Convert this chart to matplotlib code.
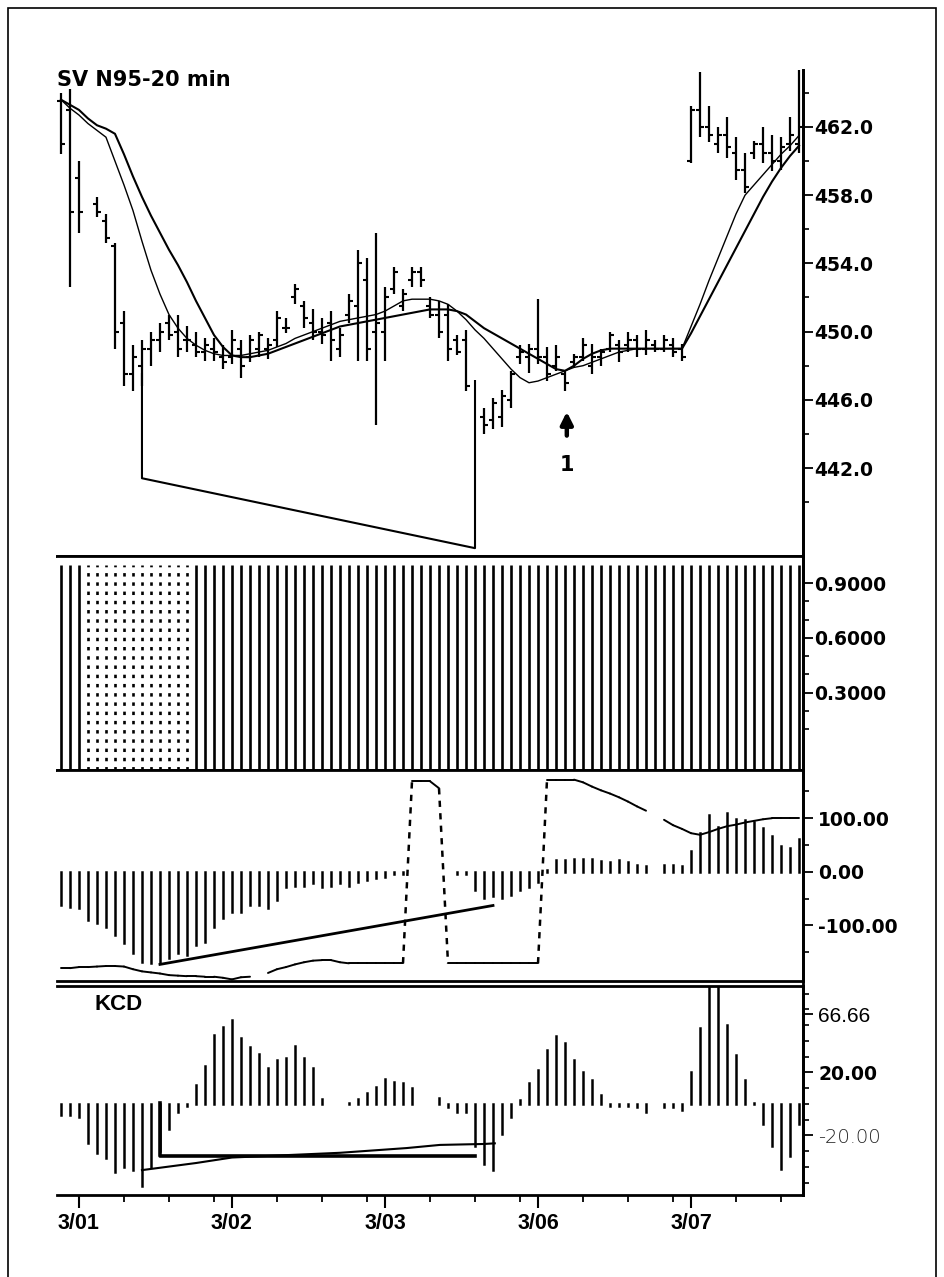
import numpy as np
import matplotlib
matplotlib.use("Agg")
import matplotlib.pyplot as plt
from matplotlib.collections import LineCollection
from matplotlib.lines import Line2D
from matplotlib.patches import Rectangle

nan = np.nan

# ---------------- data, one value per 20-min bar ----------------
bar_high = [464.0, 464.2, 460.0, nan, 457.9, 456.9, 455.2, 451.2, 449.2, 449.5,
            450.0, 450.5, 451.0, 451.0, 450.3, 450.0, 449.6, 449.6, 449.2, 450.1,
            449.5, 449.8, 450.0, 449.6, 451.2, 450.8, 452.8, 451.8, 451.3, 450.8,
            451.2, 450.2, 452.2, 454.8, 454.3, 455.8, 452.6, 453.8, 452.5, 453.8,
            453.8, 452.0, 451.8, 451.6, 449.8, 450.1, nan, 445.5, 446.1, 446.6,
            447.7, 449.2, 449.3, 451.9, 449.1, 449.2, 447.7, 448.7, 449.6, 449.3,
            449.0, 450.0, 449.5, 450.0, 449.8, 450.1, 449.5, 449.8, 449.6, 449.3,
            463.2, 465.2, 463.2, 462.0, 462.6, 461.4, 460.5, 461.2, 462.0, 461.5,
            461.4, 462.6, 465.4]
bar_low = [460.4, 452.6, 455.8, nan, 456.7, 455.2, 449.0, 446.8, 446.5, 446.8,
           448.0, 448.8, 449.5, 448.5, 448.8, 448.5, 448.3, 448.3, 447.8, 448.1,
           447.3, 448.2, 448.5, 448.4, 449.1, 449.9, 451.6, 450.2, 449.5, 449.3,
           448.3, 448.5, 450.5, 448.3, 448.3, 444.5, 448.3, 452.2, 451.2, 452.6,
           452.6, 450.8, 449.6, 448.3, 448.6, 446.5, nan, 444.0, 444.3, 444.4,
           445.5, 448.1, 447.6, 448.1, 447.1, 447.7, 446.5, 447.9, 448.3, 447.5,
           448.0, 448.8, 448.2, 448.8, 448.5, 448.6, 448.8, 448.8, 448.5, 448.3,
           459.9, 461.4, 461.1, 460.5, 460.2, 458.9, 458.1, 460.1, 459.9, 459.4,
           459.5, 460.6, 460.5]
bar_open = [463.5, 463.0, 459.0, nan, 457.5, 456.5, 455.0, 450.5, 447.5, 448.0,
            449.0, 449.5, 450.5, 450.0, 449.5, 449.2, 448.8, 449.0, 448.5, 448.5,
            449.0, 448.5, 449.0, 449.0, 449.5, 450.2, 452.0, 451.5, 450.5, 450.0,
            450.5, 449.0, 451.0, 451.5, 453.0, 450.0, 450.0, 452.5, 451.5, 453.0,
            453.5, 451.5, 451.0, 451.0, 449.5, 449.5, nan, 445.0, 444.8, 445.0,
            446.0, 448.5, 448.5, 449.0, 448.5, 448.0, 447.5, 448.2, 448.5, 448.0,
            448.5, 449.0, 449.2, 449.2, 449.5, 449.0, 449.2, 449.0, 449.2, 449.0,
            460.0, 463.0, 462.0, 461.0, 461.5, 460.5, 459.5, 460.5, 461.0, 460.5,
            460.0, 461.0, 461.0]
bar_close = [461.0, 457.0, 457.0, nan, 457.0, 455.5, 450.0, 447.5, 448.5, 449.0,
             449.5, 450.0, 449.8, 449.0, 449.5, 448.8, 449.2, 448.8, 448.2, 449.5,
             448.0, 449.5, 449.8, 449.2, 450.8, 450.2, 452.5, 450.8, 450.0, 449.8,
             449.5, 449.8, 451.8, 454.0, 449.0, 450.5, 452.0, 453.5, 452.2, 453.5,
             453.0, 451.0, 450.0, 449.0, 448.8, 446.8, nan, 444.5, 445.8, 446.2,
             447.5, 448.8, 449.0, 448.5, 447.5, 448.5, 447.0, 448.5, 449.2, 448.5,
             448.8, 449.8, 448.8, 449.5, 449.0, 449.5, 449.0, 449.5, 448.8, 448.5,
             463.0, 462.0, 461.5, 461.5, 460.8, 459.5, 458.5, 461.0, 460.5, 460.0,
             460.8, 461.5, 462.0]

ma_fast = [463.6, 463.1, 462.7, 462.2, 461.8, 461.4, 460.0, 458.6, 457.1, 455.3,
           453.6, 452.2, 451.0, 450.2, 449.6, 449.2, 448.9, 448.7, 448.6, 448.6,
           448.6, 448.7, 448.8, 448.9, 449.1, 449.3, 449.6, 449.8, 450.0, 450.2,
           450.4, 450.6, 450.7, 450.8, 450.9, 451.0, 451.2, 451.5, 451.8, 451.9,
           451.9, 451.9, 451.8, 451.6, 451.2, 450.7, 450.1, 449.6, 449.0, 448.4,
           447.8, 447.3, 447.0, 447.1, 447.3, 447.5, 447.7, 447.9, 448.0, 448.2,
           448.4, 448.6, 448.8, 448.9, 449.0, 449.0, 449.0, 449.0, 449.0, 449.0,
           450.3, 451.6, 453.0, 454.3, 455.6, 456.9, 458.0, 458.6, 459.2, 459.8,
           460.4, 460.9, 461.5]
ma_slow = [463.6, 463.3, 463.0, 462.5, 462.1, 461.9, 461.6, 460.4, 459.1, 457.9,
           456.8, 455.8, 454.8, 453.9, 452.9, 451.8, 450.8, 449.8, 449.1, 448.6,
           448.5, 448.5, 448.6, 448.7, 448.9, 449.1, 449.3, 449.5, 449.7, 449.9,
           450.1, 450.3, 450.4, 450.5, 450.6, 450.7, 450.8, 450.9, 451.0, 451.1,
           451.2, 451.3, 451.3, 451.3, 451.2, 451.0, 450.6, 450.2, 449.9, 449.6,
           449.3, 449.0, 448.7, 448.4, 448.1, 447.8, 447.7, 448.0, 448.4, 448.7,
           448.9, 449.0, 449.0, 449.0, 449.0, 449.0, 449.0, 449.0, 449.0, 449.0,
           449.9, 450.9, 451.9, 452.9, 453.9, 454.9, 455.9, 456.9, 457.9, 458.8,
           459.6, 460.3, 460.9]

# divergence marker drawn under the lows, and the "1" arrow
div_x = [9, 9, 46, 46]
div_y = [447.5, 441.4, 437.3, 447.1]
arrow_bar = 56.2
arrow_head, arrow_tail, arrow_text = 445.3, 443.9, 442.2

# second panel signal (all bars at 1.0)
signal = [1.0, 1.0, 1.0, 1.0, 1.0, 1.0, 1.0, 1.0, 1.0, 1.0,
          1.0, 1.0, 1.0, 1.0, 1.0, 1.0, 1.0, 1.0, 1.0, 1.0,
          1.0, 1.0, 1.0, 1.0, 1.0, 1.0, 1.0, 1.0, 1.0, 1.0,
          1.0, 1.0, 1.0, 1.0, 1.0, 1.0, 1.0, 1.0, 1.0, 1.0,
          1.0, 1.0, 1.0, 1.0, 1.0, 1.0, 1.0, 1.0, 1.0, 1.0,
          1.0, 1.0, 1.0, 1.0, 1.0, 1.0, 1.0, 1.0, 1.0, 1.0,
          1.0, 1.0, 1.0, 1.0, 1.0, 1.0, 1.0, 1.0, 1.0, 1.0,
          1.0, 1.0, 1.0, 1.0, 1.0, 1.0, 1.0, 1.0, 1.0, 1.0,
          1.0, 1.0, 1.0]

# third panel: histogram + oscillator line + trend line
osc_hist = [-63, -65, -68, -90, -96, -103, -119, -133, -152, -168,
            -171, -171, -161, -152, -155, -137, -131, -103, -87, -75,
            -75, -63, -63, -68, -53, -29, -27, -27, -21, -29,
            -27, -21, -27, -19, -15, -12, -9, -5, -4, nan,
            nan, nan, nan, nan, -5, -5, -34, -49, -45, -49,
            -43, -34, -29, -19, 3, 22, 22, 23, 23, 23,
            20, 19, 22, 19, 13, 11, nan, 13, 13, 10,
            38, 72, 106, 84, 110, 98, 96, 93, 82, 66,
            48, 44, 61]
osc_line = [-180, -180, -178, -178, -177, -176, -176, -177, -182, -186,
            -188, -190, -193, -194, -195, -195, -196, -196, -198, -201,
            -197, -196, nan, -189, -182, -178, -173, -169, -166, -165,
            -165, -169, -171, -171, -171, -171, -171, -171, -171, 169,
            169, 169, 156, -171, -171, -171, -171, -171, -171, -171,
            -171, -171, -171, -171, 172, 172, 172, 172, 167, 159,
            152, 146, 139, 131, 122, 114, nan, 97, 87, 80,
            72, 69, 74, 80, 85, 88, 92, 95, 98, 100,
            100, 100, 100]
osc_trend_x = [11, 48]
osc_trend_y = [-173, -63]

# KCD panel
kcd = [-7, -7, -8, -25, -31, -34, -43, -40, -42, -52,
       -40, -30, -16, -5, -1, 12, 24, 44, 49, 53,
       42, 36, 32, 23, 28, 29, 37, 29, 23, 3,
       nan, nan, 0.5, 3, 7, 11, 16, 14, 13, 10,
       nan, nan, 4, -2, -5, -5, -27, -38, -42, -19,
       -8, 2.5, 13.5, 21.6, 34, 43, 38.5, 28, 20.5, 15,
       6, -1, -1, -1, -2, -5, nan, -2, -2, -4,
       20.5, 48, 90, 90, 50, 31, 15, 0.5, -13, -27,
       -41, -33, -13]
kcd_box_x = [11, 11, 46]
kcd_box_y = [0.6, -33, -33]
kcd_trend_x = [9, 15, 19, 31, 38.4, 42.1, 47, 48.2]
kcd_trend_y = [-42, -37.5, -34, -31, -28, -26, -25.4, -25]

day_ticks = [2, 19, 36, 53, 70]
day_labels = ['3/01', '3/02', '3/03', '3/06', '3/07']
minor_day_ticks = [7, 12, 17, 24, 29, 34, 41, 46, 51, 58, 63, 68, 75, 80]

# ---------------- layout ----------------
W, H = 944, 1277
fig = plt.figure(figsize=(W / 100, H / 100), dpi=100)
fig.patch.set_facecolor('white')

def panel(top, bottom, left=57, right=803):
    return fig.add_axes([left / W, 1 - bottom / H, (right - left) / W, (bottom - top) / H])

ax1 = panel(70, 556)
ax2 = panel(556, 770)
ax3 = panel(770, 981)
ax4 = panel(986, 1195)

x = np.arange(len(bar_high))
bold_lab = dict(fontsize=13.5, fontweight='bold', family='DejaVu Sans')

for ax in (ax1, ax2, ax3, ax4):
    ax.set_xlim(-0.44, 82.44)
    ax.spines['left'].set_visible(False)
    for s in ('right', 'top', 'bottom'):
        ax.spines[s].set_linewidth(2.0)
    ax.yaxis.tick_right()
    ax.tick_params(axis='y', which='major', direction='out', length=7, width=1.3, pad=1)
    ax.tick_params(axis='y', which='minor', direction='out', length=4, width=1.2)
    ax.tick_params(axis='x', which='both', bottom=False, labelbottom=False)
ax1.spines['top'].set_visible(False)

# ---- price panel ----
ax1.vlines(x, bar_low, bar_high, color='k', lw=1.6)
ax1.hlines(bar_open, x - 0.45, x, color='k', lw=1.5)
ax1.hlines(bar_close, x, x + 0.45, color='k', lw=1.5)
ax1.plot(x, ma_fast, color='k', lw=1.0)
ax1.plot(x, ma_slow, color='k', lw=1.5)
ax1.plot(div_x, div_y, color='k', lw=1.5)
ax1.annotate('', xy=(arrow_bar, arrow_head), xytext=(arrow_bar, arrow_tail),
             arrowprops=dict(arrowstyle='-|>', lw=3.2, color='k', mutation_scale=18,
                             shrinkA=0, shrinkB=0))
ax1.text(arrow_bar, arrow_text, '1', ha='center', va='center', fontsize=15, fontweight='bold')
ax1.set_ylim(436.84, 465.34)
price_ticks = [442, 446, 450, 454, 458, 462]
ax1.set_yticks(price_ticks, labels=[f'{v:.1f}' for v in price_ticks], **bold_lab)
ax1.set_yticks([440, 444, 448, 452, 456, 460, 464], minor=True)

# ---- signal panel ----
dotted = (x >= 3) & (x <= 14)
sig = np.array(signal)
ax2.set_ylim(-0.124, 1.049)
ax2.vlines(x[~dotted], -0.124, sig[~dotted], color='k', lw=1.9)
ax2.vlines(x[dotted], -0.124, sig[dotted], color='k', lw=1.9, linestyles=[(0, (1.3, 2.2))])
ax2.set_yticks([0.3, 0.6, 0.9], labels=['0.3000', '0.6000', '0.9000'], **bold_lab)
ax2.set_yticks([0.1, 0.2, 0.4, 0.5, 0.7, 0.8], minor=True)

# ---- oscillator panel ----
ax3.set_ylim(-204, 190)
lc = ax3.vlines(x, 0, osc_hist, color='k', lw=1.8)
lc.set_capstyle('projecting')
solid, dashed = [], []
for i in range(len(osc_line) - 1):
    y0, y1 = osc_line[i], osc_line[i + 1]
    if np.isnan(y0) or np.isnan(y1):
        continue
    (dashed if abs(y1 - y0) > 100 else solid).append([(i, y0), (i + 1, y1)])
ax3.add_collection(LineCollection(solid, colors='k', linewidths=1.4, capstyle='round'))
ax3.add_collection(LineCollection(dashed, colors='k', linewidths=1.8, linestyles=[(0, (2.5, 2.5))]))
ax3.plot(osc_trend_x, osc_trend_y, color='k', lw=2.0)
ax3.set_yticks([-100, 0, 100], labels=['-100.00', '0.00', '100.00'], **bold_lab)
ax3.set_yticks([-150, -50, 50, 150], minor=True)
ax3.tick_params(axis='y', which='major', pad=4)

# ---- KCD panel ----
ax4.set_ylim(-57.8, 74.9)
lc = ax4.vlines(x, 0, kcd, color='k', lw=1.8)
lc.set_capstyle('projecting')
ax4.plot(kcd_trend_x, kcd_trend_y, color='k', lw=1.5)
ax4.plot(kcd_box_x, kcd_box_y, color='k', lw=2.6)
ax4.set_yticks([57, 20, -20], labels=['66.66', '20.00', '-20.00'])
ax4.set_yticks(list(range(-50, 71, 10)), minor=True)
ax4.tick_params(axis='y', which='major', pad=4)
lab66, lab20, labm20 = ax4.get_yticklabels()
lab66.set_fontfamily('Liberation Sans')
lab66.set_fontsize(15)
lab20.set_fontfamily('DejaVu Sans')
lab20.set_fontweight('bold')
lab20.set_fontsize(13.5)
labm20.set_fontfamily('DejaVu Sans')
labm20.set_fontweight('light')
labm20.set_fontsize(14)
labm20.set_color('#222222')
ax4.text(0.05, 0.91, 'KCD', transform=ax4.transAxes, fontsize=16, fontweight='bold',
         family='Liberation Sans', va='center', ha='left')

ax4.tick_params(axis='x', which='major', bottom=True, labelbottom=True, length=9, width=1.5, pad=4)
ax4.tick_params(axis='x', which='minor', bottom=True, length=5, width=1.3)
ax4.set_xticks(day_ticks, labels=day_labels, fontsize=15.5, fontweight='bold',
               family='Liberation Sans')
ax4.set_xticks(minor_day_ticks, minor=True)

# ---- title, frame, continuous right axis ----
fig.text(57 / W, 1 - 80 / H, 'SV N95-20 min', fontsize=15, fontweight='bold',
         family='DejaVu Sans', va='center', ha='left')
fig.add_artist(Line2D([803 / W, 803 / W], [1 - 70 / H, 1 - 1195 / H], color='k', lw=2.0))
fig.add_artist(Rectangle((8 / W, -0.01), 928 / W, 1 - 8 / H + 0.01, transform=fig.transFigure,
                         fill=False, ec='k', lw=1.2))

fig.savefig('out.png', dpi=100)
